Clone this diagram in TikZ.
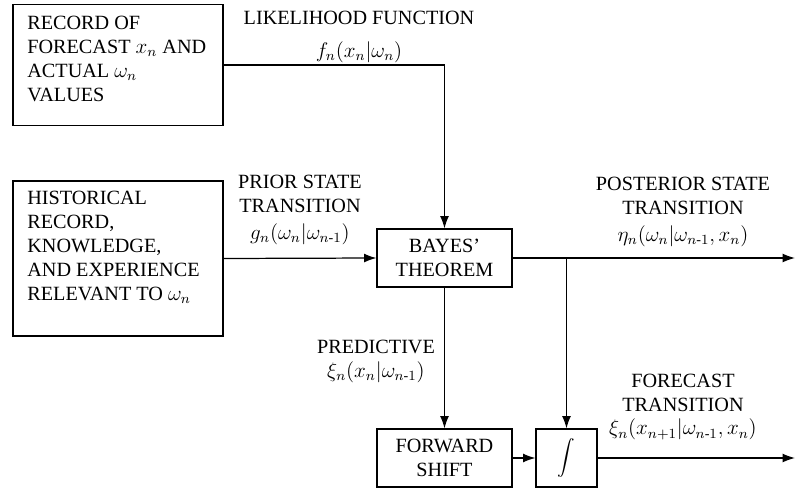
\documentclass[tikz,border=0pt]{standalone}
\usepackage{amsmath}
\usepackage{fontspec}
\setmainfont{Liberation Serif}
\usetikzlibrary{arrows.meta}
\begin{document}
\begin{tikzpicture}[x=0.02cm, y=-0.02cm,
    blk/.style={draw=black, line width=0.6pt, inner sep=0pt},
    txt/.style={inner sep=0pt, font=\fontsize{11.5}{13.6}\selectfont},
    flow/.style={black, line width=0.7pt, -{Latex[length=7pt, width=5pt]}}]
 \useasboundingbox (0,0) rectangle (796,494);
 \begin{scope}
        \node[blk, minimum width=4.2cm, minimum height=2.42cm] (B-1) at (118,65) {};
        \node[txt, align=left, anchor=north west] (T-1) at (27,16) {RECORD OF\\FORECAST $x_n$ AND\\ACTUAL $\omega_n$\\VALUES};
        \node[blk, minimum width=4.2cm, minimum height=3.1cm] (B-2) at (118,258.5) {};
        \node[txt, align=left, anchor=north west] (T-2) at (27,191) {HISTORICAL\\RECORD,\\KNOWLEDGE,\\AND EXPERIENCE\\RELEVANT TO $\omega_n$};
        \node[blk, txt, align=center, minimum width=2.7cm, minimum height=1.16cm] (B-3) at (444.5,258) {BAYES’\\THEOREM};
        \node[blk, txt, align=center, minimum width=2.7cm, minimum height=1.16cm] (B-4) at (444.5,458) {FORWARD\\SHIFT};
        \node[blk, minimum width=1.22cm, minimum height=1.16cm] (B-5) at (566.5,458) {$\displaystyle\int$};
        \node[txt, align=center] (L-1) at (359,37) {LIKELIHOOD FUNCTION\\[5pt]$f_n(x_n|\omega_n)$};
        \node[txt, align=center] (L-2) at (300,210) {PRIOR STATE\\TRANSITION\\[2pt]$g_n(\omega_n|\omega_{n\text{-}1})$};
        \node[txt, align=center] (L-3) at (683,212) {POSTERIOR STATE\\TRANSITION\\[2pt]$\eta_n(\omega_n|\omega_{n\text{-}1},x_n)$};
        \node[txt, align=center] (L-4) at (376,361) {PREDICTIVE\\$\xi_n(x_n|\omega_{n\text{-}1})$};
        \node[txt, align=center] (L-5) at (683,407) {FORECAST\\TRANSITION\\$\xi_n(x_{n+1}|\omega_{n\text{-}1},x_n)$};
        \coordinate (C-1) at (566.5,258);
        \coordinate (C-2) at (795,258);
        \coordinate (C-3) at (795,458);
        \draw[flow] (B-1.east) -| (B-3.north);
        \draw[flow] (B-2.east) -- (B-3.west);
        \draw[flow] (B-3.east) -- (C-2);
        \draw[flow] (C-1) -- (B-5.north);
        \draw[flow] (B-3.south) -- (B-4.north);
        \draw[flow] (B-4.east) -- (B-5.west);
        \draw[flow] (B-5.east) -- (C-3);
    \end{scope}
\end{tikzpicture}
\end{document}
